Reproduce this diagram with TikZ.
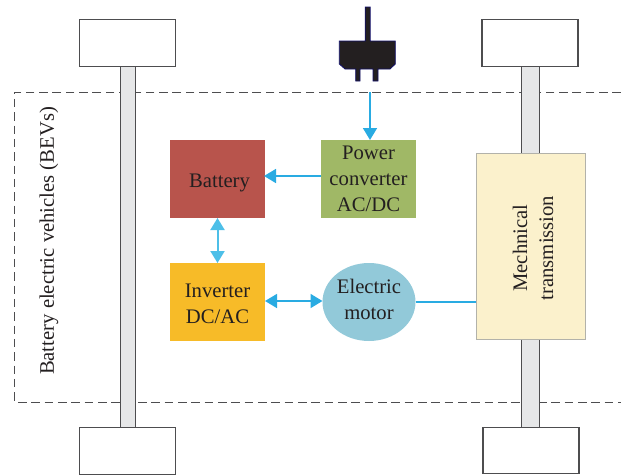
\documentclass[tikz,border=0pt]{standalone}
\usepackage{fontspec}
\setmainfont{Liberation Serif}
\usetikzlibrary{arrows.meta,shapes.geometric}
\definecolor{inkc}{HTML}{231F20}
\definecolor{flowc}{HTML}{29ABE2}
\definecolor{flowlight}{HTML}{4DBFE8}
\definecolor{axlec}{HTML}{E6E7E8}
\definecolor{edgec}{HTML}{4D4D4F}
\tikzset{
  blocktext/.style={inner sep=0pt,outer sep=0pt,align=center,text=inkc,font=\fontsize{15.5}{19.5}\selectfont},
  blockbox/.style={inner sep=0pt,outer sep=0pt,minimum width=71.25pt,minimum height=58.5pt},
  wheelbox/.style={draw=edgec,line width=0.8pt,fill=white,inner sep=0pt,outer sep=0pt,minimum width=72pt,minimum height=35pt},
  axlebox/.style={draw=edgec,line width=0.9pt,fill=axlec,inner sep=0pt,outer sep=0pt,minimum height=271.5pt},
  flow/.style={draw=flowc,line width=1.2pt,{Triangle[length=9pt,width=10.5pt]}-{Triangle[length=9pt,width=10.5pt]}},
  flowin/.style={draw=flowc,line width=1.2pt,-{Triangle[length=9pt,width=10.5pt]}}
}
\begin{document}
\begin{tikzpicture}[x=0.75pt,y=0.75pt,yscale=-1,xscale=1]
\useasboundingbox (0,0) rectangle (621,475);

%Dashed outline
\draw [edgec,line width=0.7pt,dash pattern=on 6.4pt off 3.6pt] (621,92) -- (14.5,92) -- (14.5,402) -- (621,402);

%Axles
\node [axlebox,minimum width=11pt] (axleL) at (128,247) {};
\node [axlebox,minimum width=13pt] (axleR) at (530.5,247) {};

%Wheels
\node [wheelbox] (wheelTL) at (127.75,42.75) {};
\node [wheelbox] (wheelTR) at (530,42.75) {};
\node [wheelbox] (wheelBL) at (127.5,451) {};
\node [wheelbox] (wheelBR) at (531,450.5) {};

%Plug
\draw [fill=inkc,draw=black!30!blue!50!inkc,line width=0.6pt] (365.2,7) -- (370.2,7) -- (370.2,41) -- (395.3,41) -- (395.3,64) -- (390,69) -- (378,69) -- (378,81) -- (373,81) -- (373,69) -- (360,69) -- (360,81) -- (355.7,81) -- (355.7,69) -- (345,69) -- (339.3,64) -- (339.3,41) -- (365.2,41) -- cycle;

%Blocks
\node [blockbox,fill={rgb,255:red,184;green,84;blue,76},label={[blocktext,name=batterytext,xshift=1.5pt,yshift=-2.6pt]center:Battery}] (battery) at (217.5,179) {};
\node [blockbox,blocktext,fill={rgb,255:red,160;green,184;blue,102}] (power) at (368.5,179) {Power\\converter\\AC/DC};
\node [blockbox,fill={rgb,255:red,247;green,187;blue,40},label={[blocktext,name=invertertext,yshift=-1.5pt]center:{Inverter\\DC/AC}}] (inverter) at (217.5,302) {};
\node [blockbox,ellipse,minimum width=69.75pt,fill={rgb,255:red,146;green,201;blue,217},label={[blocktext,name=motortext,yshift=2.25pt]center:{Electric\\motor}}] (motor) at (369,302) {};
\node [blockbox,draw={rgb,255:red,178;green,178;blue,170},line width=0.9pt,minimum width=82pt,minimum height=140pt,fill={rgb,255:red,251;green,241;blue,204}] (trans) at (531,246.5) {};
\node [blocktext,rotate=90] (transtext) at (533,248) {Mechnical\\transmission};
\node [blocktext,rotate=90] (bevs) at (49,241) {Battery electric vehicles (BEVs)};

%Connectors
\coordinate (mains) at (370,92);
\draw [flowin] (mains) -- (mains |- power.north);
\draw [flowin] ([yshift=-2.25pt]power.west) -- ([yshift=-2.25pt,xshift=-0.75pt]battery.east);
\draw [flow,flowlight,line width=1.5pt] (battery) -- (inverter);
\draw [flow] ([yshift=-0.75pt]inverter.east) -- ([yshift=-0.75pt]motor.west);
\draw [draw=flowc,line width=1.2pt] (motor.east) -- (motor.east -| trans.west);
\end{tikzpicture}
\end{document}
